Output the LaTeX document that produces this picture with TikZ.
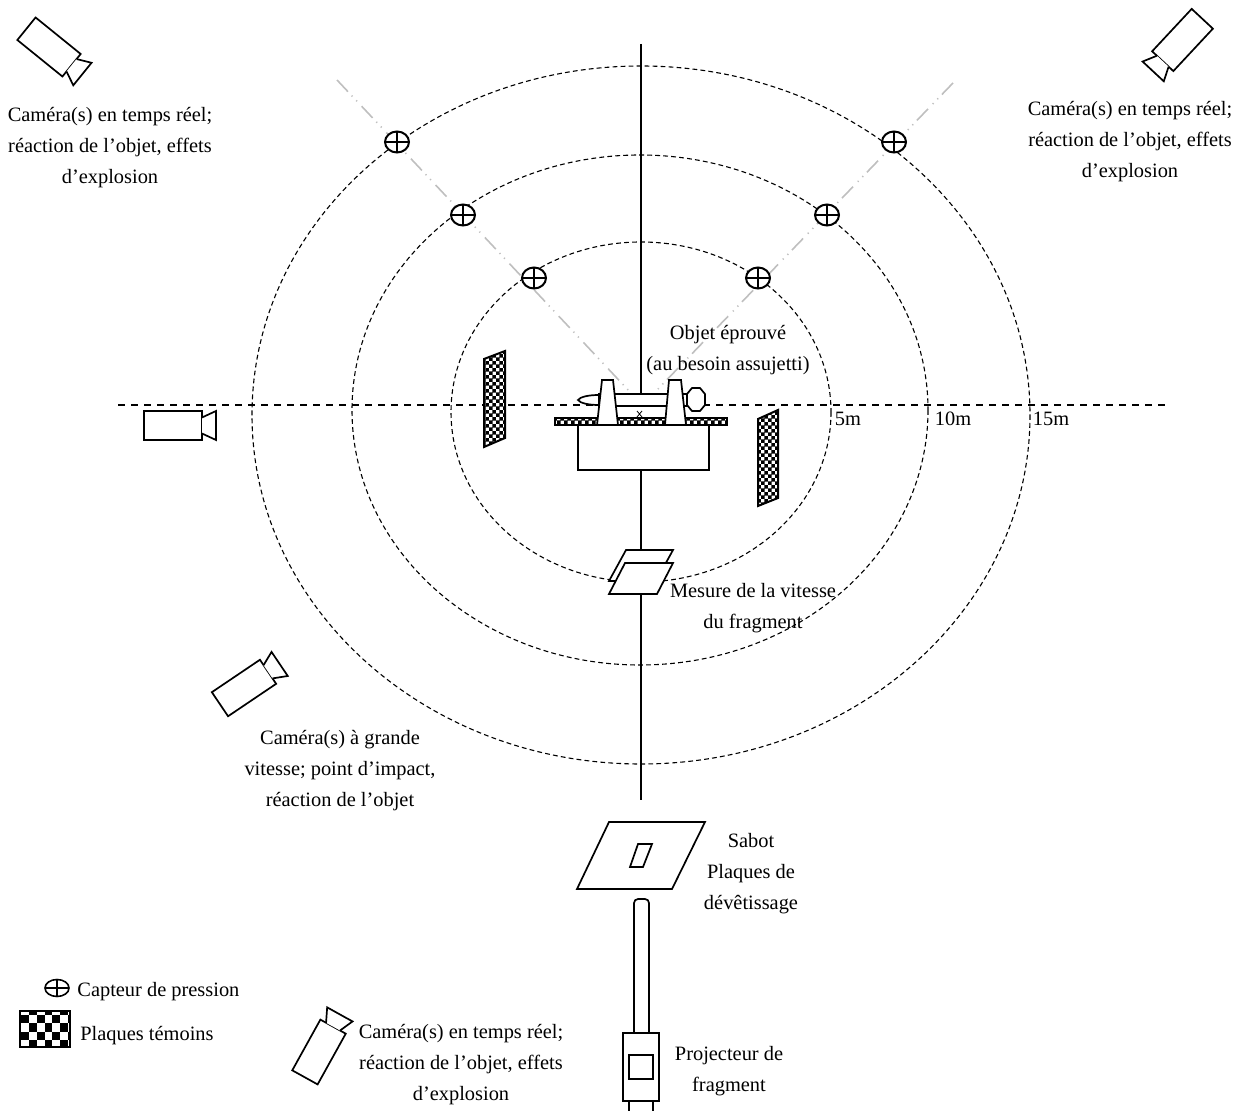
\documentclass[tikz,border=0pt]{standalone}
\usepackage{fontspec}
\setmainfont{Liberation Serif}
\usetikzlibrary{patterns,shapes.geometric}

\pgfdeclarepatternformonly{finechecker}{\pgfpointorigin}{\pgfqpoint{3.4pt}{3.4pt}}{\pgfqpoint{3.4pt}{3.4pt}}{
  \pgfpathrectangle{\pgfpointorigin}{\pgfqpoint{1.8pt}{1.8pt}}
  \pgfpathrectangle{\pgfqpoint{1.7pt}{1.7pt}}{\pgfqpoint{1.8pt}{1.8pt}}
  \pgfusepath{fill}
}

\tikzset{
  outline/.style={line width=0.85pt, line join=miter, fill=white},
  ringline/.style={line width=0.55pt, dash pattern=on 2.4pt off 1.6pt},
  sightline/.style={line width=0.8pt, gray!50, dash pattern=on 8pt off 2.7pt on 0.6pt off 2.7pt on 0.6pt off 3.4pt},
  plate/.style={line width=1pt, preaction={fill=white}, pattern=finechecker},
  sensor/.style={ellipse, draw, line width=1pt, fill=white, minimum width=12pt, minimum height=10.5pt, inner sep=0pt,
    path picture={\draw[line width=0.9pt] (path picture bounding box.north) -- (path picture bounding box.south)
      (path picture bounding box.west) -- (path picture bounding box.east);}},
  lbl/.style={align=center, inner sep=0pt, font=\fontsize{10.2}{15.5}\selectfont},
  camera/.pic={
    \draw[outline] (-29,-14.5) rectangle (29,14.5);
    \draw[outline] (29,-8) -- (43,-14.5) -- (43,14.5) -- (29,8);
  }
}

\begin{document}
\begin{tikzpicture}[x=0.5pt, y=-0.5pt]
  \useasboundingbox (0,0) rectangle (1240,1111);

  \draw[ringline] (641,412) ellipse [x radius=190, y radius=170];
  \draw[ringline] (640,410) ellipse [x radius=288, y radius=255];
  \draw[ringline] (641,415) ellipse [x radius=389, y radius=349];

  \coordinate (sightA) at (337,80);
  \coordinate (sightB) at (630,392);
  \coordinate (sightC) at (953,83);
  \coordinate (sightD) at (657,390);
  \draw[sightline] (sightA) -- (sightB);
  \draw[sightline] (sightC) -- (sightD);

  \coordinate (axisT) at (641,44);
  \coordinate (axisB) at (641,800);
  \coordinate (axisL) at (118,405);
  \coordinate (axisR) at (1165,405);
  \draw[line width=0.8pt] (axisT) -- (axisB);
  \draw[line width=1pt, dash pattern=on 3.5pt off 3pt] (axisL) -- (axisR);

  \node[sensor] (sensorA) at (397,142) {};
  \node[sensor] (sensorB) at (463,215) {};
  \node[sensor] (sensorC) at (534,278) {};
  \node[sensor] (sensorD) at (758,278) {};
  \node[sensor] (sensorE) at (827,215) {};
  \node[sensor] (sensorF) at (894,142) {};

  \draw[plate] (484,359) -- (505,351) -- (505,438) -- (484,447) -- cycle;
  \draw[plate] (758,419) -- (778,410) -- (778,498) -- (758,506) -- cycle;

  \fill[white] (599,394) rectangle (687,418);
  \draw[outline] (578,425) rectangle (709,470);
  \draw[plate] (555,418) rectangle (727,425);
  \draw[outline] (599,394) rectangle (687,406);
  \draw[outline] (599,395) .. controls (588,395) and (580,397) .. (578,400) .. controls (580,403) and (588,405) .. (599,405) -- cycle;
  \draw[outline] (692,388) -- (700,388) -- (705,394) -- (705,405) -- (700,411) -- (692,411) -- (687,405) -- (687,394) -- cycle;
  \draw[outline] (597,425) -- (602,380) -- (613,380) -- (618,425) -- cycle;
  \draw[outline] (665,425) -- (669,380) -- (681,380) -- (686,425) -- cycle;
  \draw[line width=0.4pt] (637,411) -- (642,417) (642,411) -- (637,417);

  \draw[outline] (626,550) -- (673,550) -- (656,581) -- (609,581) -- cycle;
  \draw[outline] (625,563) -- (673,563) -- (657,594) -- (609,594) -- cycle;

  \draw[outline] (609,822) -- (705,822) -- (672,889) -- (577,889) -- cycle;
  \draw[outline] (638,844) -- (652,844) -- (643,867) -- (630,867) -- cycle;

  \draw[outline, rounded corners=2pt] (634,1033) -- (634,899) -- (649,899) -- (649,1033);
  \draw[outline] (629,1101) rectangle (653,1115);
  \draw[outline] (623,1033) rectangle (659,1101);
  \draw[outline] (629,1055) rectangle (653,1079);

  \pic[rotate=-39] at (49,47) {camera};
  \pic[rotate=-133] at (1182.5,40) {camera};
  \pic at (173,425.5) {camera};
  \pic[rotate=34] at (244,688) {camera};
  \pic[rotate=61] at (319,1052) {camera};

  \node[sensor, minimum height=8.5pt, line width=0.8pt] (sensorKey) at (57,988) {};
  \begin{scope}
    \clip (20,1011) rectangle (70,1047);
    \foreach \col in {0,...,6}
      \foreach \row in {0,...,4}
        {\pgfmathparse{int(mod(\col+\row,2))}
         \ifnum\pgfmathresult=1
           \fill (21.2+\col*7.8,1007+\row*8.2) rectangle +(7.8,8.2);
         \fi}
  \end{scope}
  \draw[line width=0.8pt] (20,1011) rectangle (70,1047);

  \node[lbl] (camTL) at (110,148) {Caméra(s) en temps réel;\\réaction de l’objet, effets\\d’explosion};
  \node[lbl] (camTR) at (1130,142) {Caméra(s) en temps réel;\\réaction de l’objet, effets\\d’explosion};
  \node[lbl] (object) at (728,350) {Objet éprouvé\\(au besoin assujetti)};
  \node[lbl] (fiveM) at (848,419) {5m};
  \node[lbl] (tenM) at (953,419) {10m};
  \node[lbl] (fifteenM) at (1051,419) {15m};
  \node[lbl] (speed) at (753,608) {Mesure de la vitesse\\du fragment};
  \node[lbl] (camHS) at (340,771) {Caméra(s) à grande\\vitesse; point d’impact,\\réaction de l’objet};
  \node[lbl] (sabot) at (751,874) {Sabot\\Plaques de\\dévêtissage};
  \node[lbl] (camB) at (461,1065) {Caméra(s) en temps réel;\\réaction de l’objet, effets\\d’explosion};
  \node[lbl] (projector) at (729,1071) {Projecteur de\\fragment};
  \node[lbl, anchor=west] (keySensor) at (77,992) {Capteur de pression};
  \node[lbl, anchor=west] (keyPlate) at (80,1036) {Plaques témoins};
\end{tikzpicture}
\end{document}
